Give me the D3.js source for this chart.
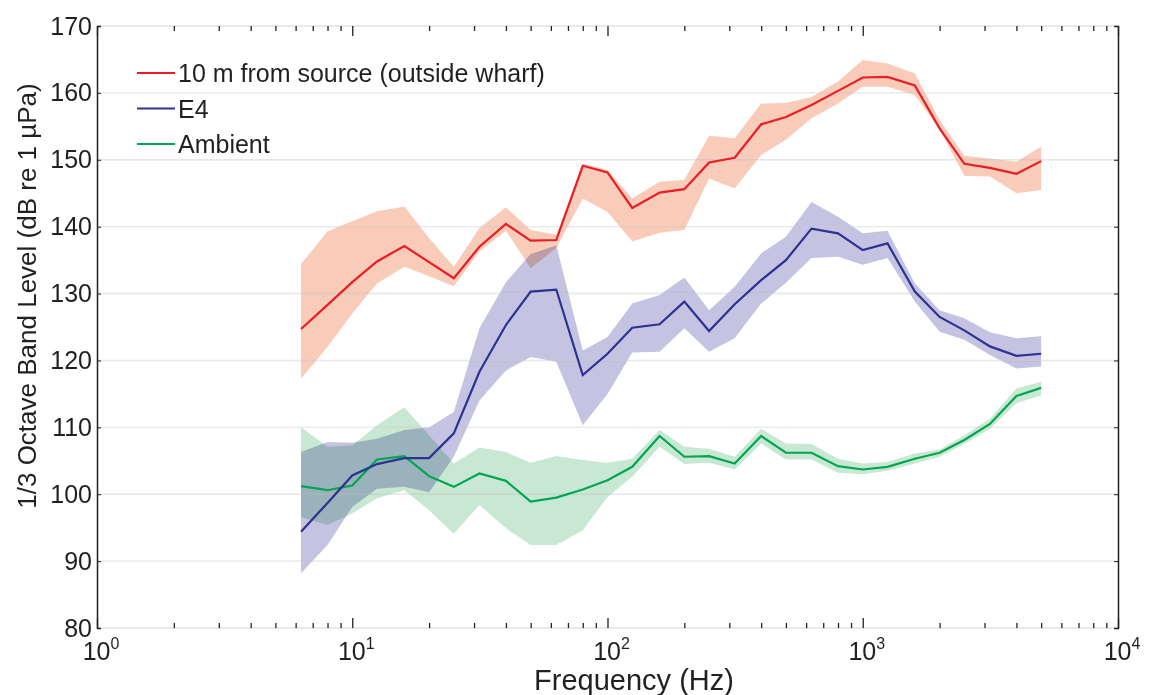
<!DOCTYPE html>
<html><head><meta charset="utf-8">
<script src="https://cdn.jsdelivr.net/npm/d3@7"></script>
<style>
body{margin:0;background:#fff}
svg{font-family:Arial,"Liberation Sans",Helvetica,sans-serif}
.band{mix-blend-mode:multiply}
</style>
</head><body><svg id="c" width="1165" height="695"></svg>
<script>
// 1/3 octave band centre frequencies (Hz)
const freqs = [6.3,8,10,12.5,16,20,25,31.5,40,50,63,80,100,125,160,200,250,315,400,500,630,800,1000,1250,1600,2000,2500,3150,4000,5000];

// 10 m from source (outside wharf)
const srcMean  = [124.7,128.3,131.7,134.8,137.1,134.7,132.3,137.0,140.4,137.9,138.0,149.1,148.1,142.8,145.1,145.6,149.6,150.3,155.3,156.4,158.2,160.3,162.3,162.4,161.1,154.7,149.4,148.8,147.9,149.8];
const srcUpper = [134.4,139.3,140.8,142.3,143.0,138.3,134.0,139.8,142.9,139.5,138.8,149.4,148.5,144.2,146.7,147.0,153.6,153.2,158.4,158.5,159.4,161.7,164.9,164.4,162.9,156.0,150.6,150.2,149.7,152.0];
const srcLower = [117.3,122.0,127.0,131.5,134.0,132.6,131.1,136.3,139.4,133.8,136.8,144.2,142.2,137.8,139.1,139.5,147.2,145.7,150.7,153.0,156.2,158.4,160.9,160.9,159.7,154.5,147.6,147.5,145.0,145.5];

// E4
const e4Mean  = [94.4,98.7,102.8,104.5,105.4,105.4,109.1,118.3,125.3,130.3,130.6,117.8,121.0,124.9,125.4,128.8,124.4,128.4,132.0,135.0,139.7,139.0,136.5,137.5,130.3,126.5,124.5,122.1,120.7,121.0];
const e4Upper = [106.3,107.8,107.7,108.3,109.6,110.0,112.3,124.8,131.7,135.9,137.2,121.5,123.5,128.5,129.8,132.4,127.5,131.0,136.0,138.5,143.7,141.5,139.0,139.4,131.5,127.5,126.3,124.2,123.3,123.6];
const e4Lower = [88.2,92.4,98.1,100.8,101.1,100.3,105.6,114.0,118.5,120.5,119.8,110.3,115.0,121.2,121.3,124.8,121.3,123.3,128.5,131.6,135.3,135.5,134.3,135.3,128.8,124.3,123.1,120.8,118.8,119.1];

// Ambient
const ambMean  = [101.2,100.6,101.3,105.2,105.7,102.7,101.1,103.1,102.0,98.9,99.5,100.7,102.1,104.1,108.7,105.6,105.7,104.6,108.7,106.2,106.2,104.2,103.7,104.1,105.3,106.2,108.1,110.5,114.7,115.9];
const ambUpper = [110.0,107.1,107.3,110.3,113.0,108.8,104.6,107.0,106.3,104.7,105.7,105.1,104.7,105.3,109.6,107.1,106.8,105.6,109.8,107.6,107.5,105.3,104.6,104.8,106.1,106.7,108.8,111.3,115.8,116.8];
const ambLower = [96.6,95.4,97.1,99.4,100.6,97.6,94.1,98.4,94.9,92.4,92.4,94.6,99.6,102.6,107.1,104.5,104.7,103.7,107.6,105.2,105.2,103.2,103.0,103.5,104.6,105.6,107.5,109.8,113.6,114.8];

const seriesNames = ["10 m from source (outside wharf)","E4","Ambient"];
const yTicks = [80,90,100,110,120,130,140,150,160,170];
const xMajor = [1,10,100,1000,10000];
const xMinor = [];
for (const d of [1,10,100,1000]) for (let k=2;k<=9;k++) xMinor.push(d*k);

const L=97,R=1118,T=26,B=628;
const svg=d3.select("#c");
const x=d3.scaleLog().domain([1,1e4]).range([L,R]);
const y=d3.scaleLinear().domain([80,170]).range([B,T]);

// grid
svg.append("g").selectAll("line").data(yTicks).join("line")
  .attr("x1",L).attr("x2",R).attr("y1",d=>y(d)).attr("y2",d=>y(d))
  .attr("stroke","#dedede").attr("stroke-width",1.4);

const series=[
  {name:seriesNames[0],mean:srcMean,up:srcUpper,lo:srcLower,line:"#ec1c24",fill:"#f9ccba"},
  {name:seriesNames[1],mean:e4Mean,up:e4Upper,lo:e4Lower,line:"#2e3192",fill:"#c4c4e2"},
  {name:seriesNames[2],mean:ambMean,up:ambUpper,lo:ambLower,line:"#00a651",fill:"#c9e8d3"}
];

const area=d3.area().x(d=>x(d.f)).y0(d=>y(d.lo)).y1(d=>y(d.up));
const line=d3.line().x(d=>x(d.f)).y(d=>y(d.v));

const bandG=svg.append("g");
series.slice().reverse().forEach(s=>{
  const pts=freqs.map((f,i)=>({f,lo:s.lo[i],up:s.up[i]}));
  bandG.append("path").attr("class","band").attr("d",area(pts)).attr("fill",s.fill);
});
// faint grid visible through bands
svg.append("g").selectAll("line").data(yTicks).join("line")
  .attr("x1",L).attr("x2",R).attr("y1",d=>y(d)).attr("y2",d=>y(d))
  .attr("stroke","#ffffff").attr("stroke-width",1.2).attr("opacity",0.35);

series.slice().reverse().forEach(s=>{
  const pts=freqs.map((f,i)=>({f,v:s.mean[i]}));
  svg.append("path").attr("d",line(pts)).attr("fill","none")
    .attr("stroke",s.line).attr("stroke-width",2.2).attr("stroke-linejoin","miter");
});

// axes
const axCol="#231f20";
function styleAxis(g){g.select(".domain").remove();g.selectAll("line").attr("stroke",axCol).attr("stroke-width",1.3);}
svg.append("g").attr("transform",`translate(0,${B})`)
  .call(d3.axisBottom(x).tickValues(xMajor).tickSize(-10).tickFormat(""))
  .call(styleAxis);
svg.append("g").attr("transform",`translate(0,${B})`)
  .call(d3.axisBottom(x).tickValues(xMinor).tickSize(-5).tickFormat(""))
  .call(styleAxis);
svg.append("g").attr("transform",`translate(0,${T})`)
  .call(d3.axisTop(x).tickValues(xMajor).tickSize(-10).tickFormat(""))
  .call(styleAxis);
svg.append("g").attr("transform",`translate(0,${T})`)
  .call(d3.axisTop(x).tickValues(xMinor).tickSize(-5).tickFormat(""))
  .call(styleAxis);

const yAx=svg.append("g").attr("transform",`translate(${L},0)`)
  .call(d3.axisLeft(y).tickValues(yTicks).tickSize(-4).tickPadding(5).tickFormat(d3.format("d")));
yAx.select(".domain").attr("stroke",axCol).attr("stroke-width",1.5);
yAx.selectAll("line").attr("stroke",axCol);
yAx.selectAll("text").attr("font-size",25).attr("fill",axCol).attr("font-family","Arial,'Liberation Sans',sans-serif");

const yAxR=svg.append("g").attr("transform",`translate(${R},0)`)
  .call(d3.axisRight(y).tickValues(yTicks).tickSize(-4).tickFormat(""));
yAxR.select(".domain").attr("stroke",axCol).attr("stroke-width",1.5);
yAxR.selectAll("line").attr("stroke",axCol);

// x tick labels with superscripts
const xl=svg.append("g").selectAll("text").data(xMajor).join("text")
  .attr("x",d=>x(d)+4).attr("y",B+32).attr("text-anchor","middle")
  .attr("font-size",25).attr("fill",axCol);
xl.append("tspan").text("10");
xl.append("tspan").attr("dy",-11).attr("font-size",16).text(d=>Math.round(Math.log10(d)));

// axis titles
svg.append("text").attr("x",634).attr("y",690).attr("text-anchor","middle")
  .attr("font-size",29).attr("fill",axCol).text("Frequency (Hz)");
svg.append("text").attr("transform","translate(36,296) rotate(-90)").attr("text-anchor","middle")
  .attr("font-size",26).attr("fill",axCol).text("1/3 Octave Band Level (dB re 1 \u00B5Pa)");

// legend
const lg=svg.append("g");
series.forEach((s,i)=>{
  const yy=73+i*35.5;
  lg.append("line").attr("x1",137).attr("x2",175).attr("y1",yy).attr("y2",yy)
    .attr("stroke",s.line).attr("stroke-width",2);
  lg.append("text").attr("x",178).attr("y",yy+9).attr("font-size",25).attr("fill",axCol).text(s.name);
});
</script></body></html>
